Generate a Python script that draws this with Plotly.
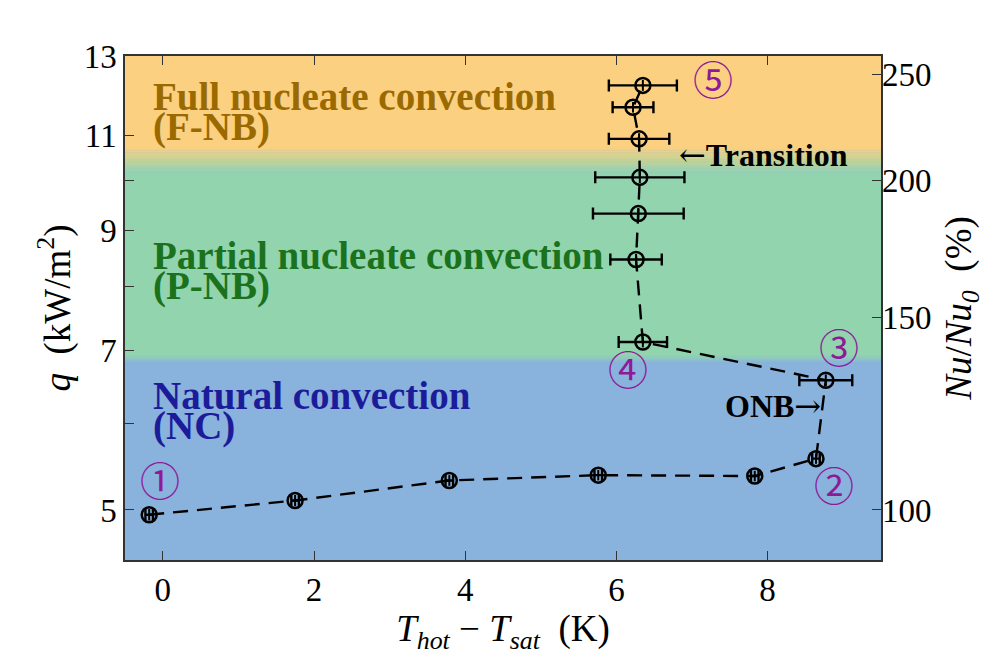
import math
import plotly.graph_objects as go

# ---- data ----
dT = [-0.18, 1.75, 3.79, 5.76, 7.83, 8.64, 8.77, 6.35, 6.26, 6.29, 6.31, 6.30, 6.22, 6.35]
q = [4.95, 5.10, 5.32, 5.38, 5.37, 5.57, 6.57, 7.12, 8.47, 9.33, 10.07, 10.92, 11.67, 12.22]
dT_err = [0.05, 0.05, 0.05, 0.05, 0.05, 0.05, 0.35, 0.32, 0.34, 0.60, 0.59, 0.40, 0.27, 0.45]
q_err = [0.06, 0.06, 0.06, 0.06, 0.06, 0.06, 0.08, 0.08, 0.10, 0.11, 0.12, 0.13, 0.13, 0.14]

x_ticks = [0, 2, 4, 6, 8]
q_ticks = [5, 7, 9, 11, 13]
q_minor_ticks = [6, 8, 10]
nu_ticks = [100, 150, 200, 250]

# regime boundaries (q, kW/m^2)
q_min, q_max = 4.5, 13.0
nc_top, pnb_bottom = 6.81, 6.92
pnb_top, fnb_bottom = 10.18, 10.73

BLUE = (137, 178, 220)
GREEN = (146, 212, 174)
ORANGE = (251, 208, 128)

FONT = "Liberation Serif"

fig = go.Figure()

fig.add_trace(go.Scatter(
    x=dT, y=q, mode="lines+markers",
    line=dict(color="black", width=2.4, dash="15px,9px"),
    marker=dict(symbol="circle-open", size=15, color="black", line=dict(width=2.5)),
    error_x=dict(type="data", array=dT_err, color="black", thickness=2.4, width=6),
    error_y=dict(type="data", array=q_err, color="black", thickness=2.0, width=0),
    showlegend=False, hoverinfo="skip",
))
# empty trace so the right-hand Nu/Nu0 axis is drawn
fig.add_trace(go.Scatter(x=[None], y=[None], yaxis="y2", showlegend=False, hoverinfo="skip"))

# background bands with soft transitions
def rgb(c):
    return "rgb(%d,%d,%d)" % c

def band(y0, y1, c):
    fig.add_shape(type="rect", xref="paper", x0=0, x1=1, yref="y", y0=y0, y1=y1,
                  fillcolor=rgb(c), line=dict(width=0), layer="below")

def blend(y0, y1, c0, c1, n=14):
    l0, l1 = math.log10(y0), math.log10(y1)
    for i in range(n):
        a = l0 + (l1 - l0) * i / n
        b = l0 + (l1 - l0) * (i + 1) / n
        t = (i + 0.5) / n
        c = tuple(round(c0[k] + (c1[k] - c0[k]) * t) for k in range(3))
        band(10 ** a, 10 ** b * 1.0005, c)

band(q_min, nc_top, BLUE)
blend(nc_top, pnb_bottom, BLUE, GREEN)
band(pnb_bottom, pnb_top, GREEN)
blend(pnb_top, fnb_bottom, GREEN, ORANGE)
band(fnb_bottom, q_max, ORANGE)

# page is drawn with an 8px body margin; plot area spans (125..881, 55.7..559.3) in the photo
OFF = 8
L, T = 125 - OFF, 56 - OFF
PW, PH = 756, 504

def py(ypix):
    return (T + OFF + PH - ypix) / PH

def px(xpix):
    return (xpix - L - OFF) / PW

def label(text, xpix, ypix, color, size, bold=True, xanchor="left", family=FONT):
    fig.add_annotation(text=("<b>%s</b>" % text) if bold else text,
                       xref="paper", yref="paper", x=px(xpix), y=py(ypix),
                       xanchor=xanchor, yanchor="middle", showarrow=False,
                       font=dict(family=family, size=size, color=color))

GOLD = "#9a6a00"
DGREEN = "#1b721c"
NAVY = "#1c1c9a"
PURPLE = "#8e1a98"

label("Full nucleate convection", 151, 96, GOLD, 39)
label("(F-NB)", 151, 127, GOLD, 39)
label("Partial nucleate convection", 151, 255, DGREEN, 39)
label("(P-NB)", 151, 286, DGREEN, 39)
label("Natural convection", 151, 395, NAVY, 39)
label("(NC)", 151, 426, NAVY, 39)

ARW = '<span style="font-family:DejaVu Serif;font-weight:normal">%s</span>'
label((ARW % "←") + "Transition", 677, 155, "black", 32)
label("ONB" + (ARW % "→"), 823, 406, "black", 32, xanchor="right")

circ = "Noto Sans CJK SC"
for t, xp, yp in [("①", 160, 479), ("②", 834, 484), ("③", 839, 346), ("④", 628, 368), ("⑤", 713, 78)]:
    label(t, xp, yp, PURPLE, 40, bold=False, xanchor="center", family=circ)

axis_line = dict(showline=True, linecolor="#333333", linewidth=1.5)
title_font = dict(family=FONT, size=37, color="black")

fig.update_layout(
    width=L + PW + 116, height=T + PH + 105,
    margin=dict(l=L, r=116, t=T, b=105),
    paper_bgcolor="white", plot_bgcolor=rgb(BLUE),
    font=dict(family=FONT, size=33, color="black"),
    xaxis=dict(range=[-0.5, 9.5], tickvals=x_ticks, ticks="inside", ticklen=9,
               tickcolor="#333333", mirror="ticks", showgrid=False, zeroline=False,
               tickfont=dict(family=FONT, size=33),
               title=dict(text="<i>T</i><sub><i>hot</i></sub> − <i>T</i><sub><i>sat</i></sub>  (K)",
                          font=title_font, standoff=4),
               **axis_line),
    yaxis=dict(type="log", range=[math.log10(q_min), math.log10(q_max)],
               tickvals=q_ticks, ticks="inside", ticklen=9,
               minor=dict(tickvals=q_minor_ticks, ticks="inside", ticklen=9, tickcolor="#333333", showgrid=False),
               tickcolor="#333333", mirror=True, showgrid=False, zeroline=False,
               tickfont=dict(family=FONT, size=33),
               title=dict(text="<i>q</i>  (kW/m<sup>2</sup>)", font=title_font, standoff=2),
               **axis_line),
    yaxis2=dict(type="log", overlaying="y", side="right",
                range=[math.log10(20 * q_min), math.log10(20 * q_max)],
                tickvals=nu_ticks, ticks="inside", ticklen=9, tickcolor="#333333",
                showgrid=False, zeroline=False, showline=False,
                tickfont=dict(family=FONT, size=33),
                title=dict(text="<i>Nu</i>/<i>Nu</i><sub><i>0</i></sub>  (%)", font=title_font, standoff=14)),
)

fig.write_html("out.html")
